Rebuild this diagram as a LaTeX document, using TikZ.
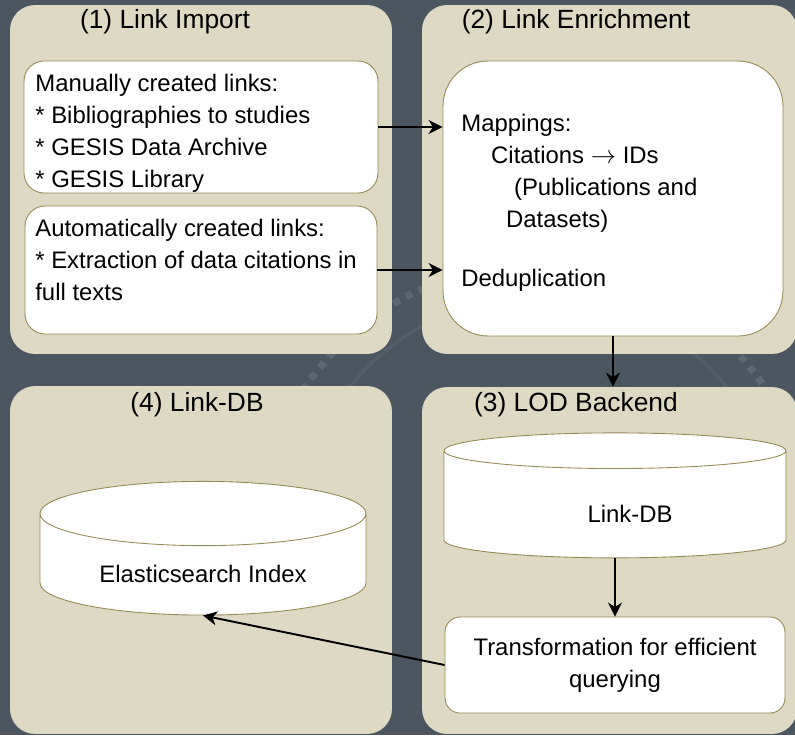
\documentclass[tikz,border=0pt]{standalone}
\usepackage{fontspec}
\setmainfont{Liberation Sans}
\usetikzlibrary{positioning}
\usetikzlibrary{shapes}
\usetikzlibrary{arrows.meta}
\usetikzlibrary{calc}

\definecolor{slate}{HTML}{4B5661}
\definecolor{panelfill}{HTML}{DDD9C3}
\definecolor{boxline}{HTML}{948A54}
\definecolor{arcline}{HTML}{545E69}
\definecolor{dotline}{HTML}{5E6872}

\begin{document}
\begin{tikzpicture}[x=0.02cm, y=-0.02cm,
             panel/.style={fill=panelfill, rounded corners=0.5cm,
                minimum width=7.64cm, minimum height=6.98cm},
             box/.style={draw=boxline, fill=white, line width=0.5pt,
                rounded corners=0.4cm},
             db/.style={draw=boxline, fill=white, line width=0.5pt, cylinder,
                shape border rotate=90, aspect=0.31, minimum height=2.5cm},
             title/.style={font=\fontsize{15}{18}\selectfont},
             txt/.style={font=\fontsize{13.6}{18.1}\selectfont, align=left, inner sep=0pt},
             connections/.style={-{Stealth[length=8pt,width=8pt,inset=2.5pt]}, line width=1.1pt},
          ]

          \fill[slate] (0,0) rectangle (795,735);
          \useasboundingbox (0,0) rectangle (795,735);
          \draw[arcline, line width=2pt] ([shift={(205:4.8cm)}]538,536) arc [start angle=205, end angle=-25, radius=4.8cm];
          \draw[dotline, line width=4pt, dash pattern=on 4pt off 4pt] ([shift={(205:5.54cm)}]535,542) arc [start angle=205, end angle=-25, radius=5.54cm];

          \node at (201,179.5) (p1) [panel] {};
          \node at (609.5,179.5) (p2) [panel, minimum width=7.5cm] {};
          \node at (609.5,560.5) (p3) [panel, minimum width=7.5cm, minimum height=6.94cm] {};
          \node at (201,560) (p4) [panel, minimum height=6.96cm] {};

          \node at (165,22) (t1) [title] {(1) Link Import};
          \node at (576,22) (t2) [title] {(2) Link Enrichment};
          \node at (576,405) (t3) [title] {(3) LOD Backend};
          \node at (197,405) (t4) [title] {(4) Link-DB};

          \node at (201,127) (man) [box, minimum width=7.08cm, minimum height=2.64cm] {};
          \node at (201,270) (auto) [box, minimum width=7.04cm, minimum height=2.56cm] {};
          \node at (613,198.5) (map) [box, rounded corners=0.9cm, minimum width=6.8cm, minimum height=5.5cm] {};
          \node at (615,665) (trans) [box, txt, align=center, rounded corners=0.3cm,
             minimum width=6.8cm, minimum height=1.92cm] {Transformation for efficient\\querying};
          \node at (615,504.5) (ldb) [db, txt, minimum width=6.84cm] {\raisebox{0pt}[\dimexpr\height+11pt][\depth]{\hspace*{0.6cm}Link-DB}};
          \node at (203,564.5) (es) [db, txt, minimum width=6.52cm] {\raisebox{0pt}[\dimexpr\height+11pt][\depth]{Elasticsearch Index}};

          \node at (35,74) (mantxt) [txt, anchor=north west] {Manually created links:\\* Bibliographies to studies\\* GESIS Data Archive\\* GESIS Library};
          \node at (35,219) (autotxt) [txt, anchor=north west] {Automatically created links:\\* Extraction of data citations in\\full texts};
          \node at (461,114) (maptxt) [txt, anchor=north west] {Mappings:\\\hspace*{17pt}Citations $\rightarrow$ IDs\\\hspace*{30pt}(Publications and\\\hspace*{25.5pt}Datasets)\\[16pt]Deduplication};

          \draw[connections] (man.east) -- (man.east -| map.west);
          \draw[connections] (auto.east) -- (auto.east -| map.west);
          \draw[connections] (map.south) -- (map.south |- p3.north);
          \draw[connections] (ldb.south) -- (trans.north);
          \draw[connections] (trans.west) -- (es.south);

       \end{tikzpicture}
\end{document}
